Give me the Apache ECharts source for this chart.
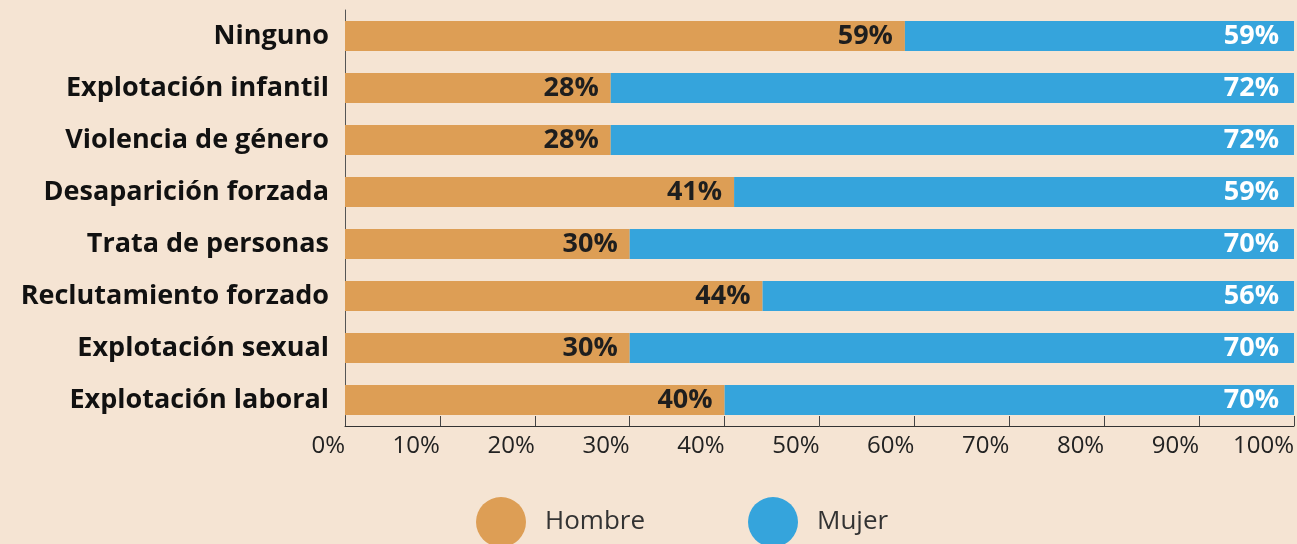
<!DOCTYPE html>
<html>
<head>
<meta charset="utf-8">
<script src="https://cdn.jsdelivr.net/npm/echarts@6/dist/echarts.min.js"></script>
<style>
html,body{margin:0;padding:0;background:#f5e4d3;}
#main{width:1297px;height:544px;}
</style>
</head>
<body>
<div id="main"></div>
<script>
var categorias = ['Ninguno','Explotación infantil','Violencia de género','Desaparición forzada','Trata de personas','Reclutamiento forzado','Explotación sexual','Explotación laboral'];
var hombre = [59,28,28,41,30,44,30,40];
var mujer = [41,72,72,59,70,56,70,60];
// etiquetas tal como aparecen en el original
var etiquetasMujer = ['59%','72%','72%','59%','70%','56%','70%','70%'];
var ticksX = [0,10,20,30,40,50,60,70,80,90,100];

var chart = echarts.init(document.getElementById('main'));
var option = {
    backgroundColor: '#f5e4d3',
    animation: false,
    textStyle: { fontFamily: 'Open Sans' },
    grid: { left: 345, right: 0, top: 10, bottom: 118 },
    legend: {
        top: 497,
        left: 476,
        padding: 0,
        icon: 'circle',
        itemWidth: 50,
        itemHeight: 50,
        itemGap: 103,
        textStyle: { fontSize: 26, color: '#333', fontWeight: 'normal', padding: [0,0,0,14] },
        data: ['Hombre','Mujer']
    },
    xAxis: {
        type: 'value',
        min: 0, max: 100, interval: 10,
        axisLine: { show: true, lineStyle: { color: '#333', width: 1 } },
        axisTick: { show: true, inside: true, length: 10, lineStyle: { color: '#444' } },
        splitLine: { show: false },
        axisLabel: {
            color: '#222', fontSize: 24, fontWeight: 'normal', align: 'right', margin: 8,
            formatter: function (v) { return ticksX.indexOf(v) >= 0 ? v + '%' : ''; }
        }
    },
    yAxis: {
        type: 'category',
        inverse: true,
        data: categorias,
        axisLine: { show: true, lineStyle: { color: '#555', width: 1 } },
        axisTick: { show: false },
        axisLabel: { color: '#111', fontSize: 27, fontWeight: 'bold', margin: 16 }
    },
    series: [
        {
            name: 'Hombre', type: 'bar', stack: 'total', barWidth: 30,
            itemStyle: { color: '#dd9e55' },
            label: {
                show: true, position: 'insideRight', distance: 12,
                color: '#1e1e1e', fontSize: 27, fontWeight: 'bold',
                formatter: function (p) { return p.value + '%'; }
            },
            data: hombre
        },
        {
            name: 'Mujer', type: 'bar', stack: 'total', barWidth: 30,
            itemStyle: { color: '#35a4dc' },
            label: {
                show: true, position: 'insideRight', distance: 15,
                color: '#fff', fontSize: 27, fontWeight: 'bold',
                formatter: function (p) { return etiquetasMujer[p.dataIndex]; }
            },
            data: mujer
        }
    ]
};
chart.setOption(option);
</script>
</body>
</html>
